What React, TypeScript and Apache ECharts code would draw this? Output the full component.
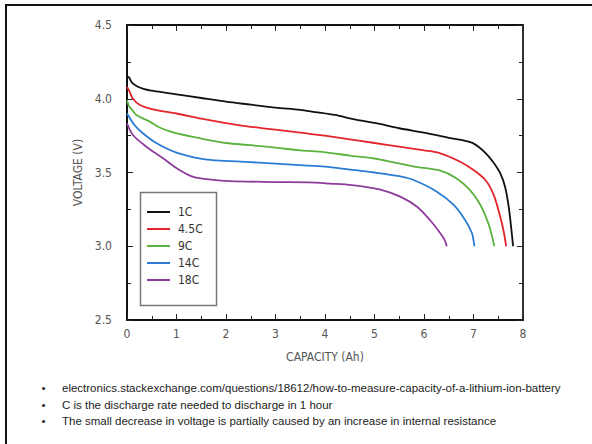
import React, { useEffect, useRef } from "react";
import * as echarts from "echarts";

const seriesNames = ["1C", "4.5C", "9C", "14C", "18C"];
const seriesColors = ["#111111", "#e3242b", "#5db33f", "#2b7bd3", "#8e3c9c"];

const curve1C = [
  [0, 4.15], [0.04, 4.145], [0.1, 4.11], [0.2, 4.085], [0.35, 4.065], [0.5, 4.055],
  [0.8, 4.04], [1.0, 4.03], [1.5, 4.005], [2.0, 3.98], [2.5, 3.96], [3.0, 3.94],
  [3.5, 3.925], [3.8, 3.91], [4.2, 3.89], [4.6, 3.86], [5.1, 3.83], [5.5, 3.8],
  [6.0, 3.77], [6.5, 3.735], [6.95, 3.705], [7.1, 3.675], [7.25, 3.63], [7.4, 3.57],
  [7.54, 3.495], [7.64, 3.4], [7.71, 3.27], [7.76, 3.13], [7.8, 3.0],
];
const curve4_5C = [
  [0, 4.08], [0.05, 4.05], [0.12, 4.0], [0.26, 3.958], [0.5, 3.93], [1.0, 3.9],
  [1.5, 3.865], [2.0, 3.835], [2.5, 3.81], [3.0, 3.79], [3.5, 3.77], [4.0, 3.75],
  [4.5, 3.725], [5.0, 3.7], [5.5, 3.675], [6.0, 3.65], [6.33, 3.63], [6.73, 3.573],
  [7.0, 3.517], [7.24, 3.449], [7.41, 3.347], [7.54, 3.2], [7.61, 3.1], [7.66, 3.0],
];
const curve9C = [
  [0, 3.99], [0.04, 3.95], [0.09, 3.93], [0.19, 3.89], [0.46, 3.845], [0.66, 3.805],
  [0.93, 3.772], [1.5, 3.73], [2.0, 3.7], [2.5, 3.685], [3.0, 3.668], [3.5, 3.65],
  [4.0, 3.637], [4.5, 3.615], [5.0, 3.595], [5.44, 3.565], [5.8, 3.54], [6.33, 3.512],
  [6.66, 3.46], [6.93, 3.38], [7.14, 3.28], [7.3, 3.155], [7.38, 3.06], [7.42, 3.0],
];
const curve14C = [
  [0, 3.9], [0.155, 3.82], [0.32, 3.766], [0.59, 3.7], [1.0, 3.635], [1.54, 3.59],
  [1.8, 3.582], [2.5, 3.57], [3.0, 3.56], [3.5, 3.55], [4.0, 3.54], [4.5, 3.52],
  [5.0, 3.5], [5.5, 3.475], [5.79, 3.449], [6.26, 3.37], [6.6, 3.28], [6.83, 3.178],
  [6.97, 3.088], [7.0, 3.04], [7.02, 3.0],
];
const curve18C = [
  [0, 3.833], [0.12, 3.754], [0.39, 3.675], [0.73, 3.596], [1.0, 3.53], [1.34, 3.47],
  [1.74, 3.45], [2.08, 3.442], [3.0, 3.435], [3.66, 3.433], [4.1, 3.425], [4.54, 3.415],
  [5.1, 3.386], [5.52, 3.336], [5.86, 3.268], [6.12, 3.178], [6.33, 3.088], [6.42, 3.04],
  [6.46, 3.0],
];
const curves = [curve1C, curve4_5C, curve9C, curve14C, curve18C];

const xAxisName = "CAPACITY (Ah)";
const yAxisName = "VOLTAGE (V)";
const notes = [
  "electronics.stackexchange.com/questions/18612/how-to-measure-capacity-of-a-lithium-ion-battery",
  "C is the discharge rate needed to discharge in 1 hour",
  "The small decrease in voltage is partially caused by an increase in internal resistance",
];

const narrow = '"Liberation Sans Narrow", "DejaVu Sans Condensed", "Liberation Sans", sans-serif';
const labelColor = "#555555";

export default function App() {
  const ref = useRef<HTMLDivElement>(null);
  useEffect(() => {
    if (!ref.current) return;
    const chart = echarts.init(ref.current, undefined, { renderer: "svg" });
    const majorBase = {
      axisLine: { show: true, onZero: false, lineStyle: { color: "#111", width: 2 } },
      axisTick: { show: true, inside: true, length: 6, lineStyle: { color: "#222", width: 1 } },
      splitLine: { show: false },
    };
    const minorBase = {
      axisLine: { show: false, onZero: false },
      axisTick: { show: true, inside: true, length: 4, lineStyle: { color: "#222", width: 1 } },
      axisLabel: { show: false },
      splitLine: { show: false },
    };
    chart.setOption({
      animation: false,
      backgroundColor: "#ffffff",
      grid: { left: 127, right: 69, top: 25, bottom: 124, containLabel: false },
      xAxis: [
        {
          type: "value", min: 0, max: 8, interval: 1, position: "bottom",
          ...majorBase,
          axisLabel: { show: true, color: labelColor, fontSize: 12, fontFamily: narrow, margin: 8 },
          name: xAxisName, nameLocation: "middle", nameGap: 31,
          nameTextStyle: { color: labelColor, fontSize: 12, fontFamily: narrow },
        },
        { type: "value", min: 0, max: 8, interval: 1, position: "top", ...majorBase, axisLabel: { show: false } },
        { type: "value", min: 0, max: 8, interval: 0.5, position: "bottom", ...minorBase },
        { type: "value", min: 0, max: 8, interval: 0.5, position: "top", ...minorBase },
      ],
      yAxis: [
        {
          type: "value", min: 2.5, max: 4.5, interval: 0.5, position: "left",
          ...majorBase,
          axisLabel: {
            show: true, color: labelColor, fontSize: 12, fontFamily: narrow, margin: 15,
            formatter: (v: number) => v.toFixed(1),
          },
          name: yAxisName, nameLocation: "middle", nameGap: 36, nameRotate: 90,
          nameTextStyle: { color: labelColor, fontSize: 12, fontFamily: narrow },
        },
        {
          type: "value", min: 2.5, max: 4.5, interval: 0.5, position: "right",
          ...majorBase,
          axisLine: { show: true, onZero: false, lineStyle: { color: "#333", width: 2 } },
          axisLabel: { show: false },
        },
        { type: "value", min: 2.5, max: 4.5, interval: 0.25, position: "left", ...minorBase },
        { type: "value", min: 2.5, max: 4.5, interval: 0.25, position: "right", ...minorBase },
      ],
      legend: {
        show: true,
        orient: "vertical",
        left: 147,
        top: 205,
        icon: "rect",
        itemWidth: 23,
        itemHeight: 2,
        itemGap: 3,
        padding: 0,
        data: seriesNames,
        textStyle: { color: "#333", fontSize: 12, lineHeight: 14, fontFamily: narrow, padding: [0, 0, 0, 3] },
      },
      series: curves.map((c, i) => ({
        type: "line",
        name: seriesNames[i],
        data: c,
        xAxisIndex: 0,
        yAxisIndex: 0,
        showSymbol: false,
        smooth: 0.3,
        color: seriesColors[i],
        lineStyle: { color: seriesColors[i], width: 1.8 },
        z: 5 - i,
      })),
      graphic: [
        { type: "line", shape: { x1: 5, y1: 5, x2: 592, y2: 5 }, style: { stroke: "#111", lineWidth: 2 } },
        { type: "line", shape: { x1: 6, y1: 4, x2: 6, y2: 444 }, style: { stroke: "#111", lineWidth: 2 } },
        {
          type: "rect", shape: { x: 140.5, y: 192.5, width: 76, height: 113 },
          style: { fill: "none", stroke: "#777", lineWidth: 1.5 }, z: 10,
        },
        ...notes.flatMap((t, i) => [
          {
            type: "text", x: 43.5, y: 388 + i * 16.5,
            style: { text: "•", fill: "#222", fontSize: 11.5, fontFamily: '"Liberation Sans", Arial, sans-serif', align: "center", verticalAlign: "middle" },
          },
          {
            type: "text", x: 62, y: 388 + i * 16.5,
            style: { text: t, fill: "#222", fontSize: 11.5, fontFamily: '"Liberation Sans", Arial, sans-serif', align: "left", verticalAlign: "middle" },
          },
        ]),
      ],
    });
    return () => chart.dispose();
  }, []);
  return (
    <div
      ref={ref}
      style={{ position: "fixed", left: 0, top: 0, width: 592, height: 444, background: "#fff" }}
    />
  );
}
